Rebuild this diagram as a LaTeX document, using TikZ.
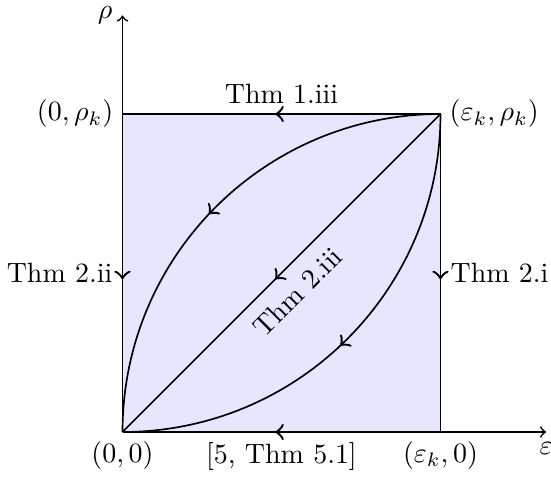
\documentclass[tikz,border=0pt]{standalone}
\usepackage{amsmath,amssymb}
\usetikzlibrary{arrows.meta, decorations.markings}
\definecolor{regionfill}{RGB}{230,230,255}

\begin{document}
\begin{tikzpicture}[
  >=to, semithick,
  midarrow/.style={postaction={decorate},
                   decoration={markings, mark=at position 0.52 with {\arrow[scale=1.4]{>}}}},
  corner/.style={inner sep=3pt},
]
\useasboundingbox (-1.541,-0.579) rectangle (5.39,5.434);
\coordinate (O)  at (0,0);
\coordinate (E)  at (4,0);
\coordinate (R)  at (0,4);
\coordinate (K)  at (4,4);
\coordinate (xend) at (5.33,0);
\coordinate (yend) at (0,5.24);
\fill[regionfill] (O) rectangle (K);
% axes
\draw[->] (O) -- (xend) node[below] (xlab) {$\varepsilon$};
\draw[->] (O) -- (yend) node[left] (ylab) {$\rho$};
% corners
\node[corner, below] (lO) at (O) {$(0,0)$};
\node[corner, below] (lE) at (E) {$(\varepsilon_k,0)$};
\node[corner, left]  (lR) at (R) {$(0,\rho_k)$};
\node[corner, right] (lK) at (K) {$(\varepsilon_k,\rho_k)$};
% edges of the square
\draw[midarrow] (K) -- node[above] (t1) {Thm 1.iii} (R);
\draw[midarrow] (R) -- node[left] (t2) {Thm 2.ii} (O);
\draw[midarrow] (K) -- node[right] (t3) {Thm 2.i} (E);
\draw[midarrow] (E) -- node[below] (t4) {[5, Thm 5.1]} (O);
% inner paths
\draw[midarrow] (K) -- node[sloped, below, pos=0.505, inner sep=5pt] (t5) {Thm 2.iii} (O);
\draw[midarrow] (K) arc[start angle=90, end angle=180, radius=4];
\draw[midarrow] (K) arc[start angle=0, end angle=-90, radius=4];
\end{tikzpicture}
\end{document}
